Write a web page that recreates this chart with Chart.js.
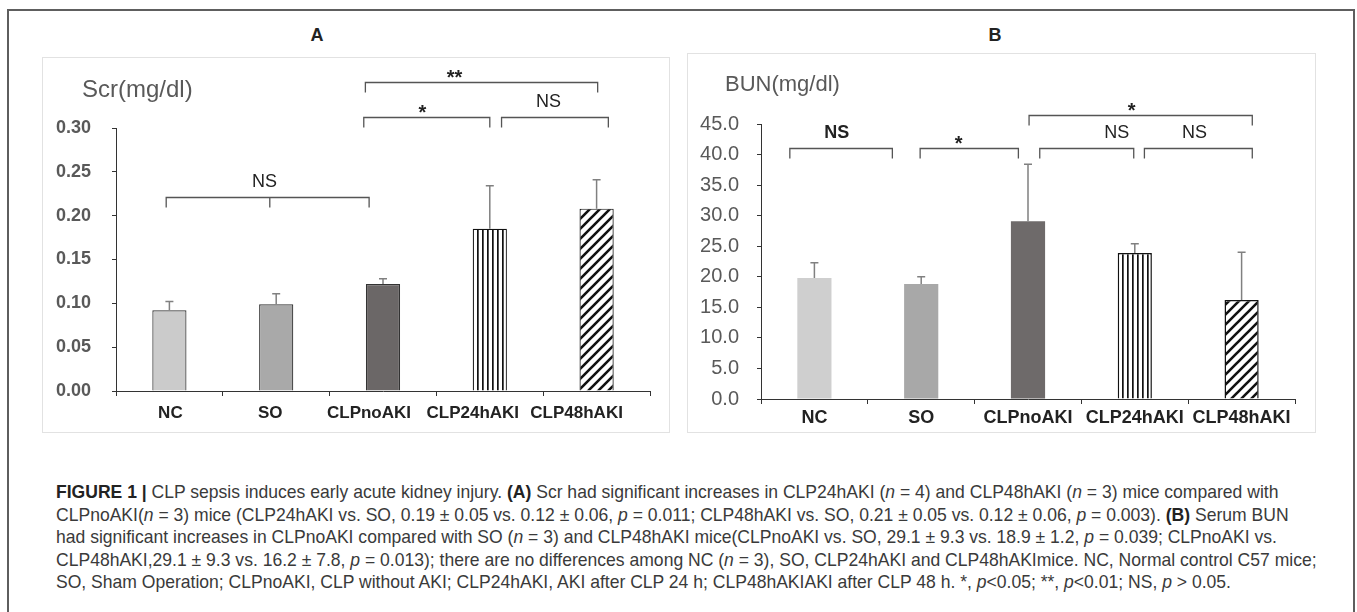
<!DOCTYPE html>
<html>
<head>
<meta charset="utf-8">
<script src="https://cdn.jsdelivr.net/npm/chart.js@4.4.1/dist/chart.umd.min.js"></script>
<style>
  html,body{margin:0;padding:0;background:#fff;width:1357px;height:612px;overflow:hidden;}
  .abs{position:absolute;}
  #frame{left:7px;top:9px;width:1348px;height:640px;border:2px solid #5e5e5e;box-sizing:border-box;}
  .box{border:1.5px solid #e2e2e2;box-sizing:border-box;background:#fff;}
  .ptitle{font-family:"Liberation Sans",Arial,sans-serif;font-weight:bold;font-size:18px;color:#222;transform:translate(-50%,-50%);}
  #caption{left:56px;top:481px;font-family:"Liberation Sans",Arial,sans-serif;color:#3a3a3a;white-space:nowrap;}
  #caption div{height:22.5px;line-height:22.5px;}
  #caption b{color:#222;}
</style>
</head>
<body>
<div id="frame" class="abs"></div>
<div class="abs box" style="left:42px;top:57px;width:628px;height:376px;"><canvas id="cA" width="628" height="376" style="width:628px;height:376px;display:block;margin:-1.5px 0 0 -1.5px"></canvas></div>
<div class="abs box" style="left:687px;top:53px;width:629px;height:380px;"><canvas id="cB" width="629" height="380" style="width:629px;height:380px;display:block;margin:-1.5px 0 0 -1.5px"></canvas></div>
<div class="abs ptitle" style="left:317px;top:35px;">A</div>
<div class="abs ptitle" style="left:995px;top:35px;">B</div>
<div id="caption" class="abs">
  <div><span><b>FIGURE 1 |</b> CLP sepsis induces early acute kidney injury. <b>(A)</b> Scr had significant increases in CLP24hAKI (<i>n</i> = 4) and CLP48hAKI (<i>n</i> = 3) mice compared with</span></div>
  <div><span>CLPnoAKI(<i>n</i> = 3) mice (CLP24hAKI vs. SO, 0.19 ± 0.05 vs. 0.12 ± 0.06, <i>p</i> = 0.011; CLP48hAKI vs. SO, 0.21 ± 0.05 vs. 0.12 ± 0.06, <i>p</i> = 0.003). <b>(B)</b> Serum BUN</span></div>
  <div><span>had significant increases in CLPnoAKI compared with SO (<i>n</i> = 3) and CLP48hAKI mice(CLPnoAKI vs. SO, 29.1 ± 9.3 vs. 18.9 ± 1.2, <i>p</i> = 0.039; CLPnoAKI vs.</span></div>
  <div><span>CLP48hAKI,29.1 ± 9.3 vs. 16.2 ± 7.8, <i>p</i> = 0.013); there are no differences among NC (<i>n</i> = 3), SO, CLP24hAKI and CLP48hAKImice. NC, Normal control C57 mice;</span></div>
  <div><span>SO, Sham Operation; CLPnoAKI, CLP without AKI; CLP24hAKI, AKI after CLP 24 h; CLP48hAKIAKI after CLP 48 h. *, <i>p</i>&lt;0.05; **, <i>p</i>&lt;0.01; NS, <i>p</i> &gt; 0.05.</span></div>
</div>
<script>
// ---------- data ----------
const categories = ['NC', 'SO', 'CLPnoAKI', 'CLP24hAKI', 'CLP48hAKI'];
const scrMean = [0.092, 0.099, 0.122, 0.185, 0.208];
const scrSD   = [0.010, 0.012, 0.006, 0.049, 0.033];
const bunMean = [19.8, 18.8, 29.1, 23.9, 16.2];
const bunSD   = [2.5, 1.2, 9.3, 1.5, 7.8];
const scrTickStep = 0.05, scrMax = 0.30;
const bunTickStep = 5, bunMax = 45;
const scrAxisLabel = 'Scr(mg/dl)';
const bunAxisLabel = 'BUN(mg/dl)';
// significance annotations (category index positions, value level)
const scrBrackets = [
  {from: -0.03, to: 1.87, mid: 0.94, y: 0.221, text: 'NS', tx: 0.89},
  {from: 1.835, to: 4.01, y: 0.352, text: '**', tx: 2.67},
  {from: 1.82, to: 3.0, y: 0.312, text: '*', tx: 2.37},
  {from: 3.11, to: 4.11, y: 0.312, text: 'NS', tx: 3.55}
];
const bunBrackets = [
  {from: -0.23, to: 0.73, y: 41.0, text: 'NS', tx: 0.21, bold: true},
  {from: 0.99, to: 1.91, y: 41.0, text: '*', tx: 1.35},
  {from: 2.01, to: 4.10, y: 46.5, text: '*', tx: 2.97},
  {from: 2.11, to: 2.99, y: 41.0, text: 'NS', tx: 2.83},
  {from: 3.09, to: 4.10, y: 41.0, text: 'NS', tx: 3.56}
];
// horizontal nudges of the category labels in panel A (px), as printed in the figure
const scrLabelShift = [1, -6, -14, -17, -20];
const bunLabelShift = [0, 0, 0, 0, 0];

// ---------- patterns ----------
function vStripes(){
  const c = document.createElement('canvas'); c.width = 5; c.height = 5;
  const x = c.getContext('2d'); x.fillStyle = '#fff'; x.fillRect(0,0,5,5);
  x.fillStyle = '#111'; x.fillRect(0,0,1.7,5);
  return x.createPattern(c, 'repeat');
}
function dStripes(){
  const s = 10;
  const c = document.createElement('canvas'); c.width = s; c.height = s;
  const x = c.getContext('2d'); x.fillStyle = '#fff'; x.fillRect(0,0,s,s);
  x.strokeStyle = '#111'; x.lineWidth = 2.6; x.lineCap = 'square';
  x.beginPath();
  x.moveTo(-2, s+2); x.lineTo(s+2, -2);
  x.moveTo(-2, 2); x.lineTo(2, -2);
  x.moveTo(s-2, s+2); x.lineTo(s+2, s-2);
  x.stroke();
  return x.createPattern(c, 'repeat');
}

const FONT = '"Liberation Sans", Arial, sans-serif';

// ---------- plugins ----------
const errorBars = {
  id: 'errorBars',
  afterDatasetsDraw(chart, args, opts) {
    const ctx = chart.ctx, y = chart.scales.y;
    const meta = chart.getDatasetMeta(0);
    const sd = opts.sd, vals = chart.data.datasets[0].data;
    ctx.save();
    ctx.strokeStyle = '#808080'; ctx.lineWidth = 1.5;
    meta.data.forEach((el, i) => {
      const top = y.getPixelForValue(vals[i] + sd[i]);
      ctx.beginPath();
      ctx.moveTo(el.x, el.y); ctx.lineTo(el.x, top);
      ctx.moveTo(el.x - 4, top); ctx.lineTo(el.x + 4, top);
      ctx.stroke();
    });
    ctx.restore();
  }
};
const annot = {
  id: 'annot',
  afterDraw(chart, args, opts) {
    const ctx = chart.ctx, xs = chart.scales.x, ys = chart.scales.y;
    ctx.save();
    // category labels (drawn at the axis tick positions, with the printed nudges)
    ctx.fillStyle = '#222';
    ctx.font = 'bold ' + opts.xFont + 'px ' + FONT;
    ctx.textAlign = 'center'; ctx.textBaseline = 'middle';
    chart.data.labels.forEach((lab, i) => {
      ctx.fillText(lab, xs.getPixelForValue(i) + opts.shift[i], opts.labelY);
    });
    // axis unit label
    ctx.fillStyle = '#595959';
    ctx.font = opts.unitFont + 'px ' + FONT;
    ctx.textAlign = 'left'; ctx.textBaseline = 'middle';
    ctx.fillText(opts.unit, opts.unitX, opts.unitY);
    // brackets
    ctx.strokeStyle = '#555'; ctx.lineWidth = 1.3;
    opts.brackets.forEach(b => {
      const x1 = xs.getPixelForValue(b.from), x2 = xs.getPixelForValue(b.to);
      const yy = Math.round(ys.getPixelForValue(b.y)) + 0.5;
      const leg = opts.leg;
      ctx.beginPath();
      ctx.moveTo(x1, yy + leg); ctx.lineTo(x1, yy); ctx.lineTo(x2, yy); ctx.lineTo(x2, yy + leg);
      if (b.mid !== undefined) {
        const xm = xs.getPixelForValue(b.mid);
        ctx.moveTo(xm, yy); ctx.lineTo(xm, yy + leg);
      }
      ctx.stroke();
      const tx = xs.getPixelForValue(b.tx);
      ctx.fillStyle = '#222';
      ctx.textAlign = 'center';
      if (b.text.indexOf('*') >= 0) {
        ctx.font = 'bold 20px ' + FONT;
        ctx.textBaseline = 'alphabetic';
        ctx.fillText(b.text, tx, yy + 1);
      } else {
        ctx.font = (b.bold ? 'bold ' : '') + '18px ' + FONT;
        ctx.textBaseline = 'middle';
        ctx.fillText(b.text, tx, yy - 15);
      }
    });
    ctx.restore();
  }
};

function makeChart(id, values, sd, colors, borders, borderW, cfg) {
  return new Chart(document.getElementById(id), {
    type: 'bar',
    data: {
      labels: categories,
      datasets: [{
        data: values,
        backgroundColor: colors,
        borderColor: borders,
        borderWidth: borderW,
        barPercentage: 0.32,
        categoryPercentage: 1.0
      }]
    },
    options: {
      responsive: false,
      animation: false,
      devicePixelRatio: 1,
      layout: {padding: {top: 71, right: cfg.padRight, left: 0, bottom: 0}},
      plugins: {
        legend: {display: false}, tooltip: {enabled: false}, title: {display: false},
        errorBars: {sd: sd},
        annot: {unit: cfg.unit, unitX: cfg.unitX, unitY: cfg.unitY, unitFont: cfg.unitFont, brackets: cfg.brackets, leg: 10,
                xFont: cfg.xFont, labelY: cfg.labelY, shift: cfg.shift}
      },
      scales: {
        x: {
          afterFit(s) { s.height = cfg.xh; },
          grid: {display: true, drawOnChartArea: false, drawTicks: true, tickLength: 5, color: '#333', lineWidth: 1, offset: true},
          border: {display: true, color: '#333', width: 1},
          ticks: {color: 'rgba(0,0,0,0)', font: {family: FONT, size: cfg.xFont, weight: 'bold'}, padding: 4, maxRotation: 0, autoSkip: false}
        },
        y: {
          min: 0, max: cfg.max,
          afterFit(s) { s.width = 74; },
          grid: {display: true, drawOnChartArea: false, drawTicks: true, tickLength: 4, color: '#333', lineWidth: 1},
          border: {display: true, color: '#333', width: 1},
          ticks: {stepSize: cfg.step, color: '#595959', padding: cfg.yPad,
            font: {family: FONT, size: cfg.yFont, weight: cfg.yWeight},
            callback: v => v.toFixed(cfg.dec)}
        }
      }
    },
    plugins: [errorBars, annot]
  });
}

makeChart('cA', scrMean, scrSD,
  ['#cbcbcb', '#a9a9a9', '#6b6767', vStripes(), dStripes()],
  ['#333', '#333', '#333', '#111', '#111'], 1.2,
  {padRight: 20, xh: 42, xFont: 17, labelY: 356, shift: scrLabelShift, max: scrMax, step: scrTickStep, yPad: 21,
   yFont: 18, yWeight: 'bold', dec: 2, unit: scrAxisLabel, unitX: 40, unitY: 33, unitFont: 24, brackets: scrBrackets});

makeChart('cB', bunMean, bunSD,
  ['#cfcfcf', '#a8a8a8', '#6e6a6a', vStripes(), dStripes()],
  ['#cfcfcf', '#a8a8a8', '#6e6a6a', '#111', '#111'], [0, 0, 0, 1.5, 1.5],
  {padRight: 21, xh: 34, xFont: 18, labelY: 365, shift: bunLabelShift, max: bunMax, step: bunTickStep, yPad: 18,
   yFont: 20, yWeight: 'normal', dec: 1, unit: bunAxisLabel, unitX: 38, unitY: 32, unitFont: 22, brackets: bunBrackets});

// fit caption font so first line spans the reference width
(function(){
  const cap = document.getElementById('caption');
  cap.style.fontSize = '15px';
  const first = cap.querySelector('span');
  const w = first.getBoundingClientRect().width;
  const target = 1223;
  cap.style.fontSize = (15 * target / w).toFixed(2) + 'px';
})();
</script>
</body>
</html>
